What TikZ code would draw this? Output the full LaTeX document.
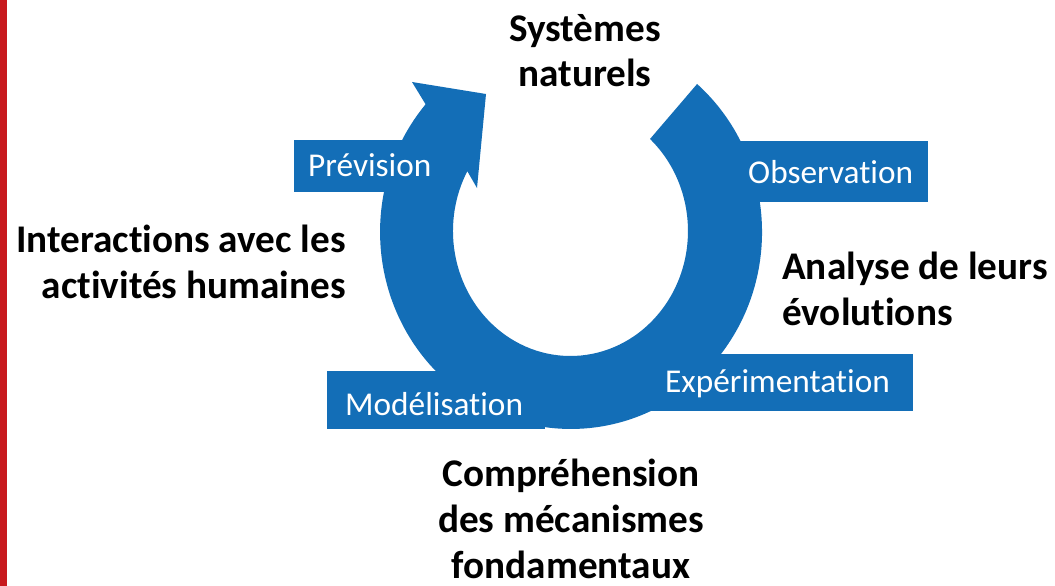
\documentclass[tikz,border=0pt]{standalone}
\usepackage{fontspec}
\setmainfont{Carlito}[Ligatures={NoCommon}]
\definecolor{cycleblue}{RGB}{19,110,183}
\definecolor{barred}{RGB}{200,25,30}
\begin{document}
\begin{tikzpicture}[x=1pt,y=-1pt,
  steplabel/.style={anchor=base west,inner sep=0pt,text=white,font=\fontsize{33.3}{40}\selectfont},
  biglabel/.style={inner sep=0pt,text=black,font=\fontsize{39.2}{46}\selectfont\bfseries}]
\useasboundingbox (0,0) rectangle (1055,586);
\fill[white] (0,0) rectangle (1055,586);
\fill[barred] (0,0) rectangle (7,586);
% step boxes
\fill[cycleblue] (294,140) rectangle (440,192);
\fill[cycleblue] (700,141) rectangle (928,202);
\fill[cycleblue] (620,354) rectangle (913,411);
\fill[cycleblue] (327,371) rectangle (545,429);
% circular arrow
\fill[cycleblue] (425.6,104.3)
  arc[start angle=220.4, end angle=-48.7, x radius=191, y radius=197]
  -- (650.0,139.0)
  arc[start angle=-47.4, end angle=208.6, x radius=117.5, y radius=125]
  -- (477,188) -- (486,94) -- (412,82) -- cycle;
% step labels
\node[steplabel] (prev) at (308,176) {Prévision};
\node[steplabel] (obs) at (748,183) {Observation};
\node[steplabel] (exp) at (665,392) {Expérimentation};
\node[steplabel] (mod) at (345,415) {Modélisation};
% big labels (anchor base = baseline of last line)
\node[biglabel,anchor=base,align=center] (sys) at (585,87) {Systèmes\\naturels};
\node[biglabel,anchor=base east,align=right] (inter) at (346,298) {Interactions avec les\\activités humaines};
\node[biglabel,anchor=base west,align=left] (ana) at (782,325) {Analyse de leurs\\évolutions};
\node[biglabel,anchor=base,align=center] (comp) at (571,578) {Compréhension\\des mécanismes\\fondamentaux};
\end{tikzpicture}
\end{document}
